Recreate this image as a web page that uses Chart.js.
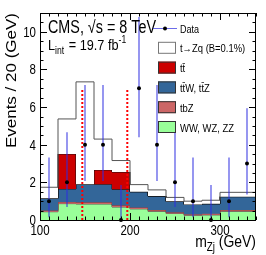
<!DOCTYPE html>
<html>
<head>
<meta charset="utf-8">
<script src="https://cdn.jsdelivr.net/npm/chart.js@4.4.1/dist/chart.umd.min.js"></script>
<style>
    html, body { margin: 0; padding: 0; background: #fff; }
    #wrap { width: 266px; height: 255px; }
</style>
</head>
<body>
<div id="wrap"><canvas id="chart"></canvas></div>
<script>
const FONT = "'Liberation Sans', Arial, Helvetica, sans-serif";
const SQUEEZE = 0.82;   // the original figure is narrower than it is tall

// Histogram bins (GeV) and per-bin yields
const binEdges = [100, 120, 140, 160, 180, 200, 220, 240, 260, 280, 300, 320, 340];
const dibosonVals = [0.05, 0.44, 0.87, 0.85, 0.85, 0.69, 0.59, 0.46, 0.35, 0.25, 0.27, 0.46];
const tbzVals     = [0.03, 0.07, 0.09, 0.09, 0.09, 0.09, 0.08, 0.07, 0.06, 0.06, 0.06, 0.07];
const ttvVals     = [0.14, 0.64, 0.69, 0.96, 0.96, 0.85, 0.83, 0.74, 0.58, 0.52, 0.53, 0.71];
const ttbarVals   = [0.00, 0.00, 1.86, 0.00, 0.76, 0.92, 0.00, 0.00, 0.00, 0.00, 0.00, 0.00];
const signalVals  = [0.10, 0.59, 1.86, 5.44, 1.64, 0.61, 0.38, 0.33, 0.21, 0.17, 0.19, 0.23];

// Data with asymmetric Poisson errors
const dataCounts = [1, 2, 4, 4, 0, 7, 4, 2, 1, 0, 1, 3];
const dataLow    = [0.17, 0.71, 2.09, 2.09, 0, 4.42, 2.09, 0.71, 0.17, 0, 0.17, 1.37];
const dataHigh   = [3.30, 4.64, 7.16, 7.16, 1.84, 10.77, 7.16, 4.64, 3.30, 1.84, 3.30, 5.92];

// Mass window (red dashed lines)
const windowEdges = [147, 197];
const windowTop = 7;

const xTicks = [100, 200, 300];
const yTicks = [0, 2, 4, 6, 8, 10];

const legendItems = [
    {label: 't\u2192Zq (B=0.1%)', fill: '#ffffff', line: '#777777'},
    {label: 'tt\u0304', fill: '#cc0000', line: '#333333'},
    {label: 'tt\u0304W, tt\u0304Z', fill: '#336699', line: '#333333'},
    {label: 'tbZ', fill: '#cc6666', line: '#333333'},
    {label: 'WW, WZ, ZZ', fill: '#99ff99', line: '#333333'}
];


function addUp(a, b) {
    return a.map((v, i) => v + b[i]);
}

function stepPoints(vals) {
    const pts = vals.map((v, i) => ({x: binEdges[i], y: v}));
    pts.push({x: binEdges[binEdges.length - 1], y: vals[vals.length - 1]});
    return pts;
}

const binCenters = dataCounts.map((_, i) => (binEdges[i] + binEdges[i + 1]) / 2);
const cumVV = dibosonVals;
const cumTbz = addUp(cumVV, tbzVals);
const cumTtv = addUp(cumTbz, ttvVals);
const cumTtbar = addUp(cumTtv, ttbarVals);
const cumSignal = addUp(cumTtbar, signalVals);

function histDataset(label, vals, fill, color, line, order) {
    return {
        label,
        data: stepPoints(vals),
        stepped: 'after',
        fill,
        backgroundColor: color,
        borderColor: line,
        borderWidth: 1,
        pointRadius: 0,
        order
    };
}

function windowDataset(x) {
    return {
        data: [{x, y: 0}, {x, y: windowTop}],
        borderColor: '#ff0000',
        borderWidth: 2,
        borderDash: [2, 2],
        pointRadius: 0,
        fill: false,
        order: 2
    };
}

// Text squeezed horizontally, like the picture
function text(ctx, str, x, y, size, align = 'left') {
    ctx.save();
    ctx.font = `${size}px ${FONT}`;
    ctx.translate(x, y);
    ctx.scale(SQUEEZE, 1);
    ctx.textAlign = align;
    ctx.fillText(str, 0, 0);
    ctx.restore();
    ctx.font = `${size}px ${FONT}`;
    return ctx.measureText(str).width * SQUEEZE;
}

function textWidth(ctx, str, size) {
    ctx.font = `${size}px ${FONT}`;
    return ctx.measureText(str).width * SQUEEZE;
}


//////////////////////////////
//         Plugins          //
//////////////////////////////
const frameAndTicks = {
    id: 'frameAndTicks',
    afterDatasetsDraw(chart) {
        const {ctx, chartArea: a, scales: {x, y}} = chart;
        ctx.save();
        ctx.strokeStyle = '#000';
        ctx.lineWidth = 1;
        ctx.beginPath();
        // x ticks, bottom and top
        for (let v = binEdges[0]; v <= binEdges[binEdges.length - 1]; v += 10) {
            const len = xTicks.includes(v) ? 7 : 3.5;
            const px = Math.round(x.getPixelForValue(v)) + 0.5;
            ctx.moveTo(px, a.bottom); ctx.lineTo(px, a.bottom - len);
            ctx.moveTo(px, a.top); ctx.lineTo(px, a.top + len);
        }
        // y ticks, left and right
        for (let v = 0; v <= 11; v += 0.5) {
            const len = yTicks.includes(v) ? 7 : 3.5;
            const py = Math.round(y.getPixelForValue(v)) + 0.5;
            ctx.moveTo(a.left, py); ctx.lineTo(a.left + len, py);
            ctx.moveTo(a.right, py); ctx.lineTo(a.right - len, py);
        }
        ctx.stroke();
        ctx.strokeRect(a.left + 0.5, a.top + 0.5, a.right - a.left - 1, a.bottom - a.top);
        ctx.restore();
    }
};

const labels = {
    id: 'labels',
    afterDraw(chart) {
        const {ctx, chartArea: a, scales: {x, y}} = chart;
        ctx.save();
        ctx.fillStyle = '#000';
        ctx.textBaseline = 'alphabetic';

        // tick labels
        xTicks.forEach((v) => text(ctx, String(v), x.getPixelForValue(v), 235, 14, 'center'));
        yTicks.forEach((v) => text(ctx, String(v), 36, y.getPixelForValue(v) + 5, 14, 'right'));

        // CMS label
        text(ctx, 'CMS, \u221As = 8 TeV', 48, 33, 17.5);
        let cx = 48;
        cx += text(ctx, 'L', cx, 50, 15.5);
        cx += text(ctx, 'int', cx, 54, 10.5) + 1;
        cx += text(ctx, ' = 19.7 fb', cx, 50, 15.5);
        text(ctx, '-1', cx, 43, 10.5);

        // x axis title with subscript
        const wM = textWidth(ctx, 'm', 17);
        const wSub = textWidth(ctx, 'Zj', 12);
        const wUnit = textWidth(ctx, ' (GeV)', 17);
        let tx = a.right - (wM + wSub + wUnit);
        tx += text(ctx, 'm', tx, 247, 17);
        tx += text(ctx, 'Zj', tx, 251, 12);
        text(ctx, ' (GeV)', tx, 247, 17);

        // y axis title
        ctx.save();
        ctx.translate(12, a.top);
        ctx.scale(SQUEEZE, 1);
        ctx.rotate(-Math.PI / 2);
        ctx.font = `17px ${FONT}`;
        ctx.textAlign = 'right';
        ctx.textBaseline = 'middle';
        ctx.fillText('Events / 20 (GeV)', 0, 0);
        ctx.restore();

        // legend
        const rowY = (i) => 28 + 19.8 * i;
        ctx.strokeStyle = 'rgba(45, 45, 225, 0.7)';
        ctx.beginPath();
        ctx.moveTo(153, rowY(0) + 0.5);
        ctx.lineTo(177, rowY(0) + 0.5);
        ctx.stroke();
        ctx.fillStyle = '#000';
        ctx.beginPath();
        ctx.arc(165, rowY(0) + 0.5, 2, 0, Math.PI * 2);
        ctx.fill();
        text(ctx, 'Data', 180, rowY(0) + 4.5, 11);
        legendItems.forEach((item, i) => {
            const yc = rowY(i + 1);
            ctx.fillStyle = item.fill;
            ctx.fillRect(158, yc - 6, 18, 12);
            ctx.strokeStyle = item.line;
            ctx.strokeRect(158.5, yc - 5.5, 17, 11);
            ctx.fillStyle = '#000';
            text(ctx, item.label, 180, yc + 4.5, 11.5);
        });
        ctx.restore();
    }
};


//////////////////////////////
//          Chart           //
//////////////////////////////
const config = {
    type: 'line',
    data: {
        datasets: [
            histDataset('WW, WZ, ZZ', cumVV, 'origin', '#99ff99', '#555555', 9),
            histDataset('tbZ', cumTbz, '-1', '#cc6666', '#8a3a3a', 8),
            histDataset('ttV', cumTtv, '-1', '#336699', '#111111', 7),
            histDataset('ttbar', cumTtbar, '-1', '#cc0000', '#111111', 6),
            histDataset('signal', cumSignal, '-1', '#ffffff', '#555555', 5),
            windowDataset(windowEdges[0]),
            windowDataset(windowEdges[1]),
            {
                // vertical error bars as thin floating bars
                type: 'bar',
                label: 'Data errors',
                data: binCenters.map((x, i) => ({x, y: [dataLow[i], dataHigh[i]]})),
                backgroundColor: 'rgba(45, 45, 225, 0.6)',
                borderWidth: 0,
                barThickness: 1,
                grouped: false,
                order: 1
            },
            {
                label: 'Data',
                data: binCenters.map((x, i) => ({x, y: dataCounts[i]})),
                showLine: false,
                pointRadius: 2,
                pointBackgroundColor: '#000',
                pointBorderWidth: 0,
                clip: false,
                order: 0
            }
        ]
    },
    options: {
        responsive: true,
        maintainAspectRatio: false,
        animation: false,
        devicePixelRatio: 1,
        layout: {padding: {left: 0, top: 13, right: 10, bottom: 0}},
        plugins: {
            legend: {display: false},
            tooltip: {enabled: false}
        },
        scales: {
            x: {
                type: 'linear',
                offset: false,
                min: binEdges[0],
                max: binEdges[binEdges.length - 1],
                afterBuildTicks: (s) => { s.ticks = xTicks.map((v) => ({value: v})); },
                afterFit: (s) => { s.height = 35; },
                grid: {display: false, drawTicks: false},
                border: {display: false},
                ticks: {display: false}
            },
            y: {
                min: 0,
                max: 11,
                afterBuildTicks: (s) => { s.ticks = yTicks.map((v) => ({value: v})); },
                afterFit: (s) => { s.width = 40; },
                grid: {display: false, drawTicks: false},
                border: {display: false},
                ticks: {display: false}
            }
        }
    },
    plugins: [frameAndTicks, labels]
};

new Chart(document.getElementById('chart'), config);
</script>
</body>
</html>
